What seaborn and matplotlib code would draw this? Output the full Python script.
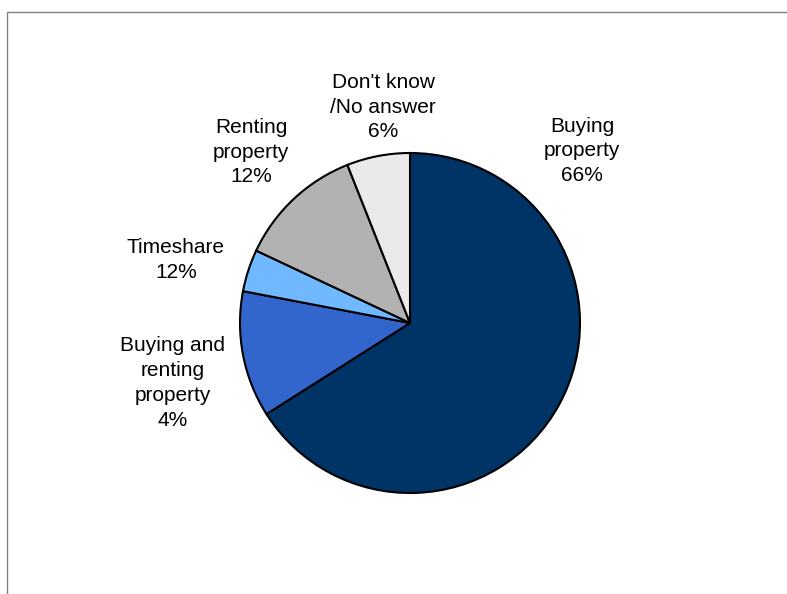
import matplotlib
matplotlib.use("Agg")
import matplotlib.pyplot as plt
import seaborn as sns
from matplotlib.patches import Rectangle

# ---- data ----
slice_names = ["Buying property", "Buying and renting property", "Timeshare",
               "Renting property", "Don't know /No answer"]
slice_values = [66, 12, 4, 12, 6]
label_texts = ["Buying\nproperty", "Buying and\nrenting\nproperty", "Timeshare",
               "Renting\nproperty", "Don't know\n/No answer"]
label_pcts = [66, 4, 12, 12, 6]
slice_colors = ["#003366", "#3366CC", "#70B8FF", "#B2B2B2", "#EAEAEA"]

# label centres in pixels (layout)
label_px = [(582, 151), (173, 383), (176, 260), (251, 152), (383, 107)]

sns.set_theme(style="white")
plt.rcParams['font.family'] = ['Liberation Sans', 'DejaVu Sans']

W, H = 787, 594
cx, cy, R = 410, 323, 170
fig = plt.figure(figsize=(W / 100, H / 100), dpi=100)
ax = fig.add_axes([0, 0, 1, 1])

ax.pie(slice_values, colors=slice_colors, startangle=90, counterclock=False,
       wedgeprops=dict(edgecolor="black", linewidth=1.5))

ax.set_xlim(-cx / R, (W - cx) / R)
ax.set_ylim(-(H - cy) / R, cy / R)
ax.set_aspect('auto')
ax.axis('off')

for txt, pct, (px, py) in zip(label_texts, label_pcts, label_px):
    ax.text((px - cx) / R, (cy - py) / R, f"{txt}\n{pct}%", ha="center", va="center",
            fontsize=15, color="black", linespacing=1.38)

# frame around the chart area (top and left visible)
fig.add_artist(Rectangle((7 / W, -0.05), 1.1, 1 - 12 / H + 0.05, transform=fig.transFigure,
                         fill=False, edgecolor="#808080", linewidth=1.0))

fig.savefig("out.png", dpi=100, facecolor="white")
